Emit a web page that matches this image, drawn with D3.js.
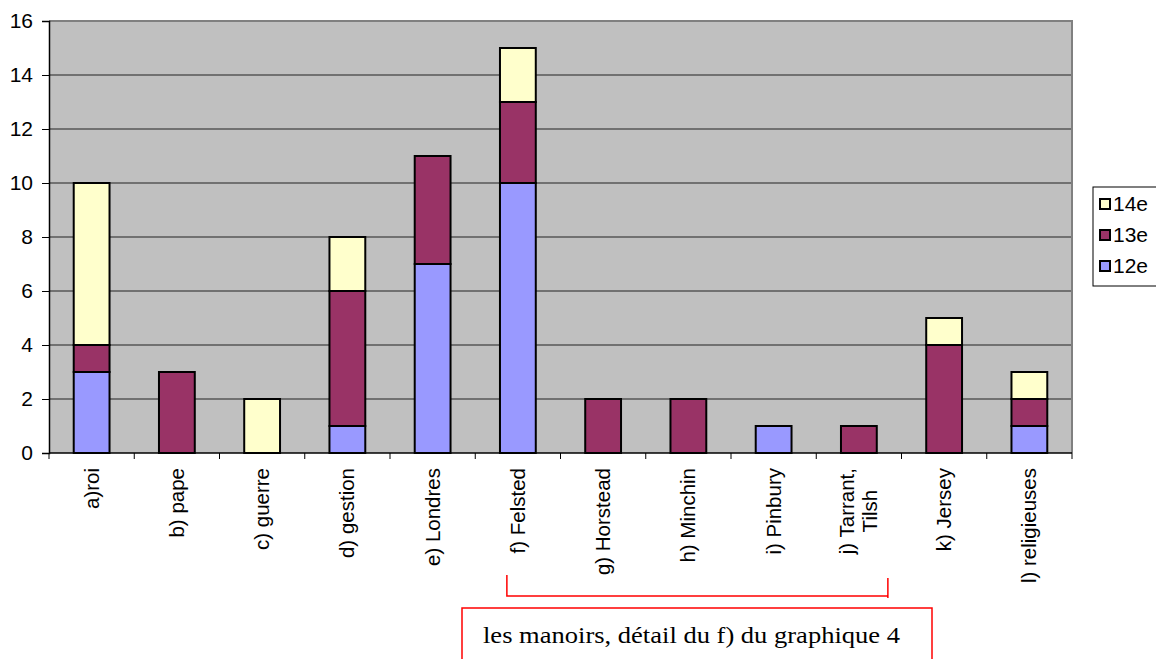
<!DOCTYPE html>
<html>
<head>
<meta charset="utf-8">
<script src="https://cdn.jsdelivr.net/npm/d3@7"></script>
<style>
  body { margin: 0; background: #fff; }
  svg { display: block; }
</style>
</head>
<body>
<svg id="chart"></svg>
<script>
const categories = ["a)roi", "b) pape", "c) guerre", "d) gestion", "e) Londres", "f) Felsted",
  "g) Horstead", "h) Minchin", "i) Pinbury", "j) Tarrant,\nTilsh", "k) Jersey", "l) religieuses"];
const series = ["12e", "13e", "14e"];
const values12 = [3, 0, 0, 1, 7, 10, 0, 0, 1, 0, 0, 1];
const values13 = [1, 3, 0, 5, 4, 3, 2, 2, 0, 1, 4, 1];
const values14 = [6, 0, 2, 2, 0, 2, 0, 0, 0, 0, 1, 1];
const yTicks = [0, 2, 4, 6, 8, 10, 12, 14, 16];
const colors = { "12e": "#9999ff", "13e": "#993366", "14e": "#ffffcc" };
const note = "les manoirs, détail du f) du graphique 4";

const width = 1156, height = 659,
      margin = { top: 21, left: 49, right: 84, bottom: 206 };
const sans = "'Liberation Sans', Arial, sans-serif";

const svg = d3.select("#chart").attr("width", width).attr("height", height);

const rows = categories.map((c, i) => ({ cat: c, "12e": values12[i], "13e": values13[i], "14e": values14[i] }));
const stacked = d3.stack().keys(series)(rows);

const x = d3.scaleBand().domain(categories)
    .range([margin.left, width - margin.right]).paddingInner(0.58).paddingOuter(0.29);
const y = d3.scaleLinear().domain([0, 16]).range([height - margin.bottom, margin.top]);

// plot background
svg.append("rect")
    .attr("x", margin.left).attr("y", margin.top)
    .attr("width", width - margin.right - margin.left)
    .attr("height", y(0) - margin.top)
    .attr("fill", "#c0c0c0");

// gridlines
svg.append("g").selectAll("line")
    .data(yTicks.filter(t => t > 0 && t < 16))
    .join("line")
    .attr("x1", margin.left).attr("x2", width - margin.right)
    .attr("y1", d => y(d)).attr("y2", d => y(d))
    .attr("stroke", "#222").attr("stroke-width", 1);

// grey frame top / right
svg.append("path")
    .attr("d", `M${margin.left},${y(16)}H${width - margin.right}V${y(0)}`)
    .attr("fill", "none").attr("stroke", "#808080").attr("stroke-width", 2);

// bars
svg.append("g").selectAll("g")
    .data(stacked)
    .join("g")
    .attr("fill", d => colors[d.key])
    .selectAll("rect")
    .data(d => d.filter(s => s[1] - s[0] > 0))
    .join("rect")
    .attr("x", d => x(d.data.cat))
    .attr("width", x.bandwidth())
    .attr("y", d => y(d[1]))
    .attr("height", d => y(d[0]) - y(d[1]))
    .attr("stroke", "#000").attr("stroke-width", 2);

// y axis
const yAxis = d3.axisLeft(y).tickValues(yTicks).tickSize(7).tickPadding(9);
const gy = svg.append("g").attr("transform", `translate(${margin.left},0)`).call(yAxis);
gy.select(".domain").attr("stroke", "#000").attr("stroke-width", 1.5);
gy.selectAll(".tick line").attr("stroke", "#000");
gy.selectAll("text").attr("font-family", sans)
    .attr("font-size", "21px").attr("fill", "#000");

// x axis line and ticks at category boundaries
const gx = svg.append("g");
gx.append("line")
    .attr("x1", margin.left).attr("x2", width - margin.right)
    .attr("y1", y(0)).attr("y2", y(0))
    .attr("stroke", "#000").attr("stroke-width", 1.5);
const step = x.step();
gx.selectAll("line.tk")
    .data(d3.range(categories.length + 1))
    .join("line")
    .attr("class", "tk")
    .attr("x1", i => margin.left + i * step).attr("x2", i => margin.left + i * step)
    .attr("y1", y(0)).attr("y2", y(0) + 6)
    .attr("stroke", "#000");

// category labels rotated
const lab = svg.append("g").selectAll("text")
    .data(categories)
    .join("text")
    .attr("transform", d => `translate(${x(d) + x.bandwidth() / 2},${y(0) + 15}) rotate(-90)`)
    .attr("font-family", sans)
    .attr("font-size", "20.5px")
    .attr("fill", "#000");
lab.each(function(d) {
  const parts = d.split("\n");
  const t = d3.select(this);
  if (parts.length === 1) {
    t.append("tspan").attr("x", 0).attr("y", 7).attr("text-anchor", "end").text(parts[0]);
    return;
  }
  const first = t.append("tspan").attr("x", 0).attr("y", -11.5 + 7)
      .attr("text-anchor", "end").text(parts[0]);
  const len = first.node().getComputedTextLength();
  parts.slice(1).forEach((p, i) => {
    t.append("tspan").attr("x", -len / 2).attr("y", -11.5 + 7 + 23 * (i + 1))
      .attr("text-anchor", "middle").text(p);
  });
});

// legend
const lg = svg.append("g");
lg.append("rect")
    .attr("x", 1093).attr("y", 187).attr("width", 70).attr("height", 99)
    .attr("fill", "#fff").attr("stroke", "#000").attr("stroke-width", 1);
const legendItems = series.slice().reverse();
lg.selectAll("g")
    .data(legendItems)
    .join("g")
    .attr("transform", (d, i) => `translate(1100,${199 + i * 31})`)
    .call(g => {
      g.append("rect").attr("width", 10).attr("height", 10)
        .attr("fill", d => colors[d]).attr("stroke", "#000").attr("stroke-width", 2);
      g.append("text").attr("x", 13).attr("y", 12)
        .attr("font-family", sans)
        .attr("font-size", "21px").text(d => d);
    });

// red bracket under f) .. j)
const bx1 = x(categories[5]) + x.bandwidth() / 2 - 11,
      bx2 = x(categories[9]) + x.bandwidth() / 2 + 29;
svg.append("path")
    .attr("d", `M${bx1},575V596H${bx2}M${bx2},578V598`)
    .attr("fill", "none").attr("stroke", "#ff0000").attr("stroke-width", 1.5);

// note box
svg.append("rect")
    .attr("x", 462).attr("y", 608).attr("width", 470).attr("height", 70)
    .attr("fill", "#fff").attr("stroke", "#ff0000").attr("stroke-width", 1.5);
svg.append("text")
    .attr("x", 483).attr("y", 643)
    .attr("font-family", "'Liberation Serif', 'Times New Roman', Times, serif")
    .attr("font-size", "23px")
    .attr("textLength", 417)
    .attr("lengthAdjust", "spacingAndGlyphs")
    .text(note);
</script>
</body>
</html>
